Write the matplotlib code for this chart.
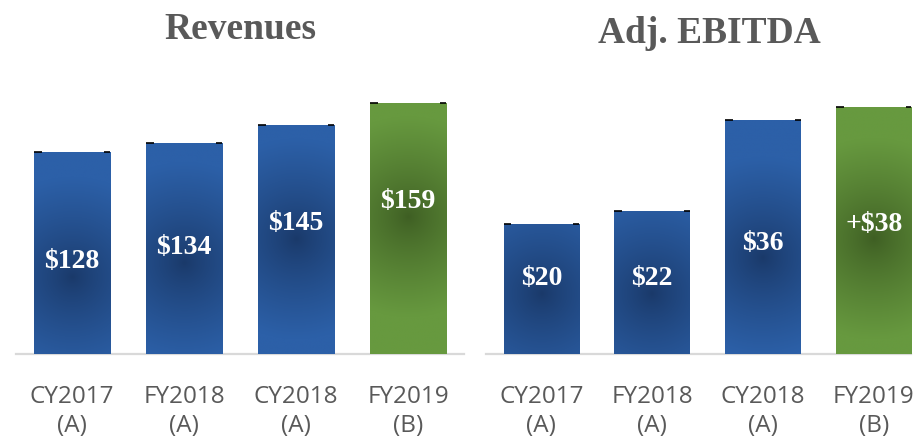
import numpy as np
import matplotlib.pyplot as plt
from matplotlib.colors import to_rgb

categories = ["CY2017\n(A)", "FY2018\n(A)", "CY2018\n(A)", "FY2019\n(B)"]
revenues = [128, 134, 145, 159]
revenue_labels = ["$128", "$134", "$145", "$159"]
ebitda = [20, 22, 36, 38]
ebitda_labels = ["$20", "$22", "$36", "+$38"]
# budget year is green, actuals blue
is_budget = [False, False, False, True]

# where the value text sits, as a share of bar height
rev_label_pos = [0.456, 0.502, 0.569, 0.607]
ebitda_label_pos = [0.577, 0.525, 0.474, 0.526]

W, H = 918, 440
BLUE = (to_rgb("#2c60a8"), to_rgb("#1a3969"))
GREEN = (to_rgb("#67993f"), to_rgb("#3e5e23"))
GREY = "#595959"
BAR_W = 0.68


def shade(ax, bar, colors, cy, ppu, bar_px, R=100.0):
    # radial gradient, dark in the middle, clipped to the bar
    light, dark = np.array(colors[0]), np.array(colors[1])
    x0, w, h = bar.get_x(), bar.get_width(), bar.get_height()
    X, Y = np.meshgrid(np.linspace(x0, x0 + w, 80), np.linspace(0, h, 400))
    dx = (X - (x0 + w / 2)) / w * bar_px
    dy = (Y - cy) * ppu
    t = np.clip(np.hypot(dx, dy) / R, 0, 1) ** 0.8
    img = dark + (light - dark) * t[..., None]
    im = ax.imshow(img, extent=(x0, x0 + w, 0, h), origin="lower", aspect="auto",
                   interpolation="bilinear", zorder=2)
    im.set_clip_path(bar)


def panel(ax, values, labels, label_pos, ymax, ppu, bar_px, line_end):
    x = np.arange(len(values))
    bars = ax.bar(x, values, width=BAR_W, color=[GREEN[0] if b else BLUE[0] for b in is_budget],
                  zorder=2)
    for i, b in enumerate(bars):
        cols = GREEN if is_budget[i] else BLUE
        ly = values[i] * label_pos[i]
        shade(ax, b, cols, ly - 15 / ppu, ppu, bar_px)
        ax.text(x[i], ly, labels[i], ha="center", va="center", color="white",
                fontsize=20, fontweight="bold", family="Liberation Serif", zorder=4)
        # little dark marks on the top corners
        top = values[i]
        ax.plot([x[i] - BAR_W / 2, x[i] - BAR_W / 2 + 0.07], [top, top], color="black",
                lw=1.2, zorder=3, solid_capstyle="butt")
        ax.plot([x[i] + BAR_W / 2 - 0.05, x[i] + BAR_W / 2], [top, top], color="black",
                lw=1.2, zorder=3, solid_capstyle="butt")
    ax.plot([-0.5, line_end], [0, 0], color="#d9d9d9", lw=1.6, zorder=1, clip_on=False)
    ax.set_xlim(-0.5, 3.5)
    ax.set_ylim(0, ymax)
    for s in ax.spines.values():
        s.set_visible(False)
    ax.set_yticks([])
    ax.set_xticks(x)
    ax.set_xticklabels(categories, family="Open Sans", fontsize=17.5,
                       color=GREY, linespacing=1.3)
    ax.tick_params(axis="x", length=0, pad=22)


fig = plt.figure(figsize=(W / 100, H / 100), dpi=100)
ax1 = fig.add_axes([16 / W, 86 / H, 448 / W, 268 / H])
ax2 = fig.add_axes([486 / W, 86 / H, 443 / W, 260 / H])

panel(ax1, revenues, revenue_labels, rev_label_pos, 170, 268 / 170, 76, 3.5)
panel(ax2, ebitda, ebitda_labels, ebitda_label_pos, 40, 260 / 40, 75, 3 + BAR_W / 2)

fig.text(240 / W, 1 - 39 / H, "Revenues", ha="center", va="baseline", fontsize=27,
         fontweight="bold", family="Liberation Serif", color=GREY)
fig.text(709 / W, 1 - 43 / H, "Adj. EBITDA", ha="center", va="baseline", fontsize=27,
         fontweight="bold", family="Liberation Serif", color=GREY)

fig.savefig("out.png", dpi=100)
